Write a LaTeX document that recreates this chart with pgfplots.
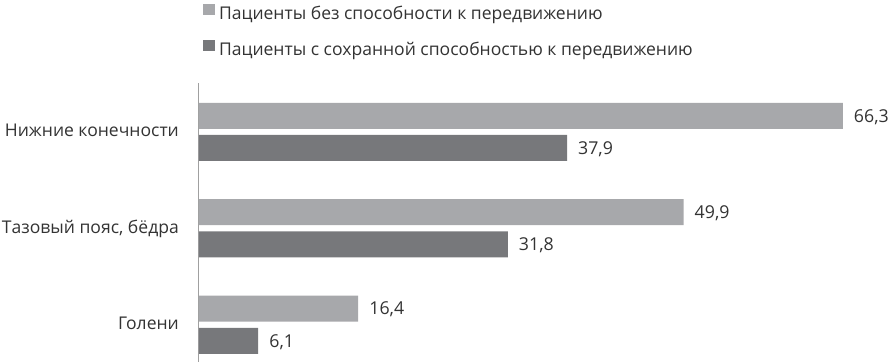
\documentclass[border=0pt]{standalone}
\usepackage{pgfplots}
\pgfplotsset{compat=1.18}
\usepackage{fontspec}
\setmainfont{Open Sans}
\definecolor{lightbar}{HTML}{A7A8AB}
\definecolor{darkbar}{HTML}{77787B}
\definecolor{txt}{HTML}{333333}
\definecolor{axisgray}{HTML}{A0A0A0}
\begin{document}
\begin{tikzpicture}
\useasboundingbox (-199bp,0bp) rectangle (696bp,362bp);
\begin{axis}[
  at={(0,0)}, anchor=south west,
  x=9.71bp, y=96.4bp,
  xmin=0, xmax=70, ymin=-0.387, ymax=2.507,
  axis x line=none,
  axis y line=left,
  axis line style={-, draw=axisgray, line width=1bp},
  ytick={0,1,2},
  yticklabels={Голени, {Тазовый пояс, бёдра}, Нижние конечности},
  major tick length=0pt,
  yticklabel style={font=\fontsize{17.6}{20}\selectfont, text=txt, anchor=base east, inner sep=0pt, xshift=-20bp, yshift=-5bp},
  xbar, bar width=26bp,
  point meta=x,
  nodes near coords,
  /pgf/number format/use comma,
  /pgf/number format/fixed,
  /pgf/number format/fixed zerofill,
  /pgf/number format/precision=1,
  /pgf/number format/assume math mode=true,
  nodes near coords style={font=\fontsize{17.8}{20}\selectfont, text=txt, anchor=west, inner sep=0pt, xshift=11bp, yshift=-1bp},
  legend style={at={(axis description cs:0.0059,1.283)}, anchor=north west, draw=none, fill=none, inner sep=0pt, outer sep=0pt, row sep=16bp, font=\fontsize{17.6}{20}\selectfont, text=txt, nodes={inner sep=0pt, text height=13bp, text depth=4bp}, /tikz/every odd column/.append style={column sep=4bp}},
  legend cell align=left,
]
\addplot[fill=lightbar, draw=none, bar shift=16.1bp, legend image code/.code={\fill[lightbar] (0bp,0bp) rectangle (12bp,11bp);}] coordinates {(66.3,2) (49.9,1) (16.4,0)};
\addplot[fill=darkbar, draw=none, bar shift=-16.1bp, legend image code/.code={\fill[darkbar] (0bp,0bp) rectangle (12bp,11bp);}] coordinates {(37.9,2) (31.8,1) (6.1,0)};
\legend{Пациенты без способности к передвижению, Пациенты с сохранной способностью к передвижению}
\end{axis}
\end{tikzpicture}
\end{document}
